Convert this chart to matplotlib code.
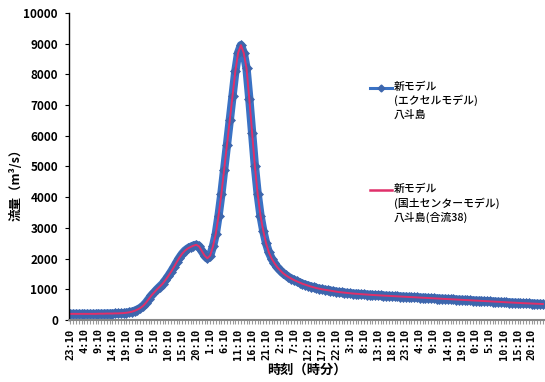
import numpy as np
import matplotlib.pyplot as plt

plt.rcParams['font.family'] = ['Noto Sans CJK JP', 'DejaVu Sans']

# 1時間ごとの流量 (m3/s)、23:10 から
excel_flow = [
    200, 200, 200, 200, 200, 200, 200, 200, 200, 200,
    205, 205, 205, 210, 210, 210, 215, 215, 220, 225,
    235, 250, 270, 300, 340, 390, 460, 560, 680, 800,
    900, 1000, 1090, 1180, 1300, 1430, 1570, 1720, 1880, 2030,
    2160, 2260, 2330, 2380, 2420, 2450, 2400, 2250, 2100, 2010,
    2100, 2400, 2800, 3400, 4100, 4900, 5700, 6500, 7300, 8100,
    8700, 8950, 8700, 8200, 7200, 6100, 5000, 4100, 3400, 2900,
    2500, 2200, 2000, 1850, 1720, 1620, 1530, 1460, 1400, 1350,
    1300, 1260, 1220, 1180, 1150, 1120, 1090, 1065, 1040, 1020,
    1000, 985, 970, 955, 940, 925, 910, 900, 890, 880,
    870, 862, 855, 848, 841, 834, 828, 822, 816, 810,
    805, 800, 795, 790, 785, 780, 775, 770, 765, 760,
    755, 750, 745, 740, 735, 730, 725, 720, 715, 710,
    705, 700, 695, 690, 685, 680, 675, 670, 665, 660,
    655, 650, 645, 640, 635, 630, 625, 620, 615, 610,
    605, 600, 595, 590, 585, 580, 575, 570, 565, 560,
    556, 552, 548, 544, 540, 536, 532, 528, 524, 520,
]
center_flow = [
    200, 200, 200, 200, 200, 200, 200, 200, 200, 200,
    205, 205, 205, 210, 210, 210, 215, 215, 220, 225,
    235, 250, 270, 300, 340, 390, 460, 560, 680, 800,
    900, 1000, 1090, 1180, 1300, 1430, 1570, 1720, 1880, 2030,
    2160, 2260, 2330, 2380, 2420, 2450, 2400, 2250, 2100, 2010,
    2100, 2400, 2800, 3400, 4100, 4900, 5700, 6500, 7300, 8100,
    8700, 8950, 8700, 8200, 7200, 6100, 5000, 4100, 3400, 2900,
    2500, 2200, 2000, 1850, 1720, 1620, 1530, 1460, 1400, 1350,
    1300, 1260, 1220, 1180, 1150, 1120, 1090, 1065, 1040, 1020,
    1000, 985, 970, 955, 940, 925, 910, 900, 890, 880,
    870, 862, 855, 848, 841, 834, 828, 822, 816, 810,
    805, 800, 795, 790, 785, 780, 775, 770, 765, 760,
    755, 750, 745, 740, 735, 730, 725, 720, 715, 710,
    705, 700, 695, 690, 685, 680, 675, 670, 665, 660,
    655, 650, 645, 640, 635, 630, 625, 620, 615, 610,
    605, 600, 595, 590, 585, 580, 575, 570, 565, 560,
    556, 552, 548, 544, 540, 536, 532, 528, 524, 520,
]

# 5時間おきの目盛りラベル
time_labels = [
    '23:10', '4:10', '9:10', '14:10', '19:10', '0:10', '5:10', '10:10',
    '15:10', '20:10', '1:10', '6:10', '11:10', '16:10', '21:10', '2:10',
    '7:10', '12:10', '17:10', '22:10', '3:10', '8:10', '13:10', '18:10',
    '23:10', '4:10', '9:10', '14:10', '19:10', '0:10', '5:10', '10:10',
    '15:10', '20:10',
]
label_step = 5

x = np.arange(len(excel_flow))

fig = plt.figure(figsize=(5.45, 3.82), dpi=100)
ax = fig.add_axes([0.1266, 0.1623, 0.872, 0.8037])

blue = '#3a72c4'
blue_mk = '#3d66ad'
red = '#e0306a'
ax.plot(x, excel_flow, color=blue, lw=6, marker='D', ms=5,
        markerfacecolor=blue_mk, markeredgecolor=blue_mk, mew=0.5)
ax.plot(x, center_flow, color=red, lw=1.4)

ax.set_xlim(-0.5, len(x) - 0.5)
ax.set_ylim(0, 10000)
ax.set_yticks(np.arange(0, 10001, 1000))
ax.set_xticks(np.arange(0, len(x), label_step))
ax.set_xticks(np.arange(len(x)), minor=True)
ax.set_xticklabels(time_labels, rotation=90, fontsize=7.5,
                   family='DejaVu Sans Mono', fontweight='bold')
ax.tick_params(axis='y', labelsize=8.5, length=3, width=0.8, pad=5)
ax.tick_params(axis='x', which='both', length=3, width=0.8, color='#999999', pad=3)
for t in ax.get_yticklabels():
    t.set_fontweight('bold')

ax.spines['top'].set_visible(False)
ax.spines['right'].set_visible(False)
ax.spines['left'].set_linewidth(1.0)
ax.spines['bottom'].set_color('#888888')
ax.spines['bottom'].set_linewidth(1.5)

ax.set_ylabel('流量（m³/s）', fontsize=9, fontweight='bold')
ax.yaxis.set_label_coords(-0.098, 0.45)
ax.set_xlabel('時刻（時分）', fontsize=9.5, fontweight='bold', labelpad=2)

# 凡例：線の見本と3行の説明
legend_items = [
    (blue, 'D', '新モデル\n(エクセルモデル)\n八斗島', 0.756),
    (red, None, '新モデル\n(国土センターモデル)\n八斗島(合流38)', 0.423),
]
for color, marker, text, ypos in legend_items:
    if marker:
        ax.plot([0.634, 0.680], [ypos, ypos], transform=ax.transAxes, color=color,
                lw=2.2, clip_on=False)
        ax.plot([0.657], [ypos], transform=ax.transAxes, color=blue_mk,
                marker=marker, ms=3.5, clip_on=False)
    else:
        ax.plot([0.634, 0.680], [ypos, ypos], transform=ax.transAxes, color=color,
                lw=1.8, clip_on=False)
    ax.text(0.684, ypos + 0.022, text, transform=ax.transAxes, fontsize=7.8,
            va='top', ha='left', linespacing=1.35, fontweight='medium')

fig.savefig('out.png', dpi=100)
